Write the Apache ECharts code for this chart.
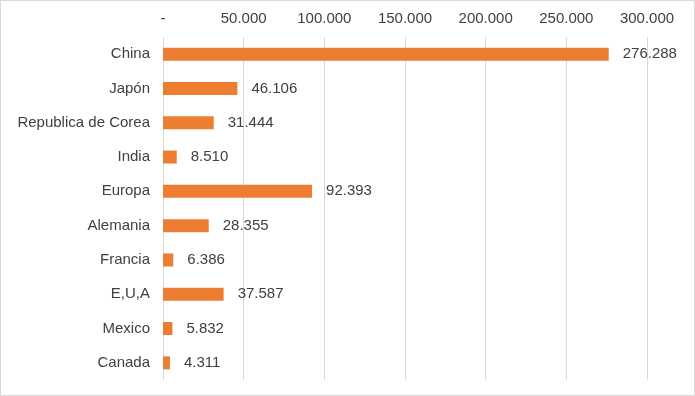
<!DOCTYPE html>
<html><head><meta charset="utf-8">
<script src="https://cdn.jsdelivr.net/npm/echarts@6/dist/echarts.min.js"></script>
<style>
html,body{margin:0;padding:0;background:#fff;}
#c{width:693px;height:394px;border:1px solid #d9d9d9;}
</style></head><body>
<div id="c"></div>
<script>
const categories = ["China","Japón","Republica de Corea","India","Europa","Alemania","Francia","E,U,A","Mexico","Canada"];
const values = [276288,46106,31444,8510,92393,28355,6386,37587,5832,4311];
const tickValues = [0,50000,100000,150000,200000,250000,300000];

function fmt(v){
  if (v === 0) return "-";
  return Math.round(v).toString().replace(/\B(?=(\d{3})+(?!\d))/g, ".");
}
const chart = echarts.init(document.getElementById('c'));
chart.setOption({
  animation:false,
  grid:{left:162,right:47,top:36,bottom:15,containLabel:false},
  textStyle:{fontFamily:'Liberation Sans, Arial, sans-serif'},
  xAxis:{type:'value',position:'top',min:0,max:300000,interval:50000,
    axisLine:{show:false},axisTick:{show:false},
    axisLabel:{formatter:fmt,color:'#404040',fontSize:15,margin:11},
    splitLine:{lineStyle:{color:'#d9d9d9',width:1}}},
  yAxis:{type:'category',data:categories,inverse:true,
    axisLine:{show:false},axisTick:{show:false},
    axisLabel:{color:'#404040',fontSize:15,margin:13}},
  series:[{type:'bar',data:values,barWidth:13,
    itemStyle:{color:'#ED7D31'},
    label:{show:true,position:'right',distance:14,formatter:p=>fmt(p.value),color:'#404040',fontSize:15}}]
});
</script></body></html>
